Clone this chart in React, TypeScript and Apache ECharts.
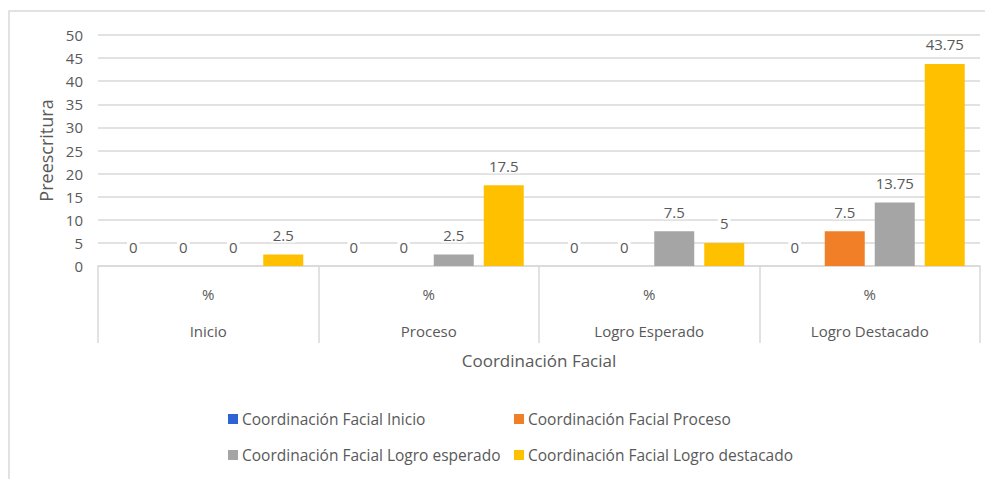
import React, { useEffect, useRef } from "react";
import * as echarts from "echarts";

const categories = ["Inicio", "Proceso", "Logro Esperado", "Logro Destacado"];
const subLabel = "%";
const seriesNames = [
  "Coordinación Facial Inicio",
  "Coordinación Facial Proceso",
  "Coordinación Facial Logro esperado",
  "Coordinación Facial Logro destacado",
];
const inicioValues = [0, 0, 0, 0];
const procesoValues = [0, 0, 0, 7.5];
const esperadoValues = [0, 2.5, 7.5, 13.75];
const destacadoValues = [2.5, 17.5, 5, 43.75];
const colors = ["#2F62D3", "#F07F28", "#A5A5A5", "#FFC000"];

const FONT = "'Open Sans', 'Noto Sans', sans-serif";
const TEXT = "#595959";
const LINE = "#D9D9D9";

export default function App() {
  const ref = useRef<HTMLDivElement>(null);
  useEffect(() => {
    if (!ref.current) return;
    const chart = echarts.init(ref.current, undefined, { renderer: "svg" });
    const allValues = [inicioValues, procesoValues, esperadoValues, destacadoValues];
    const series = allValues.map((vals, i) => ({
      name: seriesNames[i],
      type: "bar",
      data: vals,
      barWidth: 40,
      barGap: "25%",
      itemStyle: { color: colors[i] },
      label: {
        show: true,
        position: "top",
        distance: 12,
        fontFamily: FONT,
        fontSize: 15,
        color: TEXT,
        backgroundColor: "#ffffff",
        padding: [0, 2],
      },
    }));
    const legendText = { fontFamily: FONT, fontSize: 15.5, color: TEXT };
    chart.setOption({
      animation: false,
      backgroundColor: "#ffffff",
      textStyle: { fontFamily: FONT },
      graphic: [
        {
          type: "rect",
          shape: { x: 9, y: 11, width: 1000, height: 500 },
          style: { fill: "none", stroke: LINE, lineWidth: 1.5 },
          silent: true,
          z: -10,
        },
      ],
      grid: { left: 98, right: 5, top: 35, bottom: 213 },
      legend: [
        {
          left: 223,
          top: 406,
          orient: "vertical",
          itemGap: 20,
          itemWidth: 10,
          itemHeight: 10,
          icon: "rect",
          data: [seriesNames[0], seriesNames[2]],
          textStyle: { ...legendText, padding: [0, 0, 0, -1] },
        },
        {
          left: 509,
          top: 406,
          orient: "vertical",
          itemGap: 20,
          itemWidth: 10,
          itemHeight: 10,
          icon: "rect",
          data: [seriesNames[1], seriesNames[3]],
          textStyle: { ...legendText, padding: [0, 0, 0, -1] },
        },
      ],
      xAxis: {
        type: "category",
        data: categories,
        name: "Coordinación Facial",
        nameLocation: "middle",
        nameGap: 86,
        nameTextStyle: { fontFamily: FONT, fontSize: 17, color: TEXT },
        axisLine: { lineStyle: { color: LINE, width: 1.5 } },
        axisTick: { show: true, length: 77, interval: 0, lineStyle: { color: LINE, width: 1.5 } },
        axisLabel: {
          interval: 0,
          margin: 9,
          fontFamily: FONT,
          fontSize: 15,
          color: TEXT,
          lineHeight: 37,
          formatter: (v: string) => subLabel + "\n" + v,
        },
      },
      yAxis: {
        type: "value",
        min: 0,
        max: 50,
        interval: 5,
        name: "Preescritura",
        nameLocation: "middle",
        nameGap: 42,
        nameTextStyle: { fontFamily: FONT, fontSize: 18, color: TEXT },
        axisLine: { show: false },
        axisTick: { show: false },
        axisLabel: { fontFamily: FONT, fontSize: 15, color: TEXT, margin: 15 },
        splitLine: { lineStyle: { color: LINE, width: 1.5 } },
      },
      series,
    });
    return () => chart.dispose();
  }, []);
  return (
    <div
      ref={ref}
      style={{ position: "fixed", left: 0, top: 0, width: 985, height: 479 }}
    />
  );
}
